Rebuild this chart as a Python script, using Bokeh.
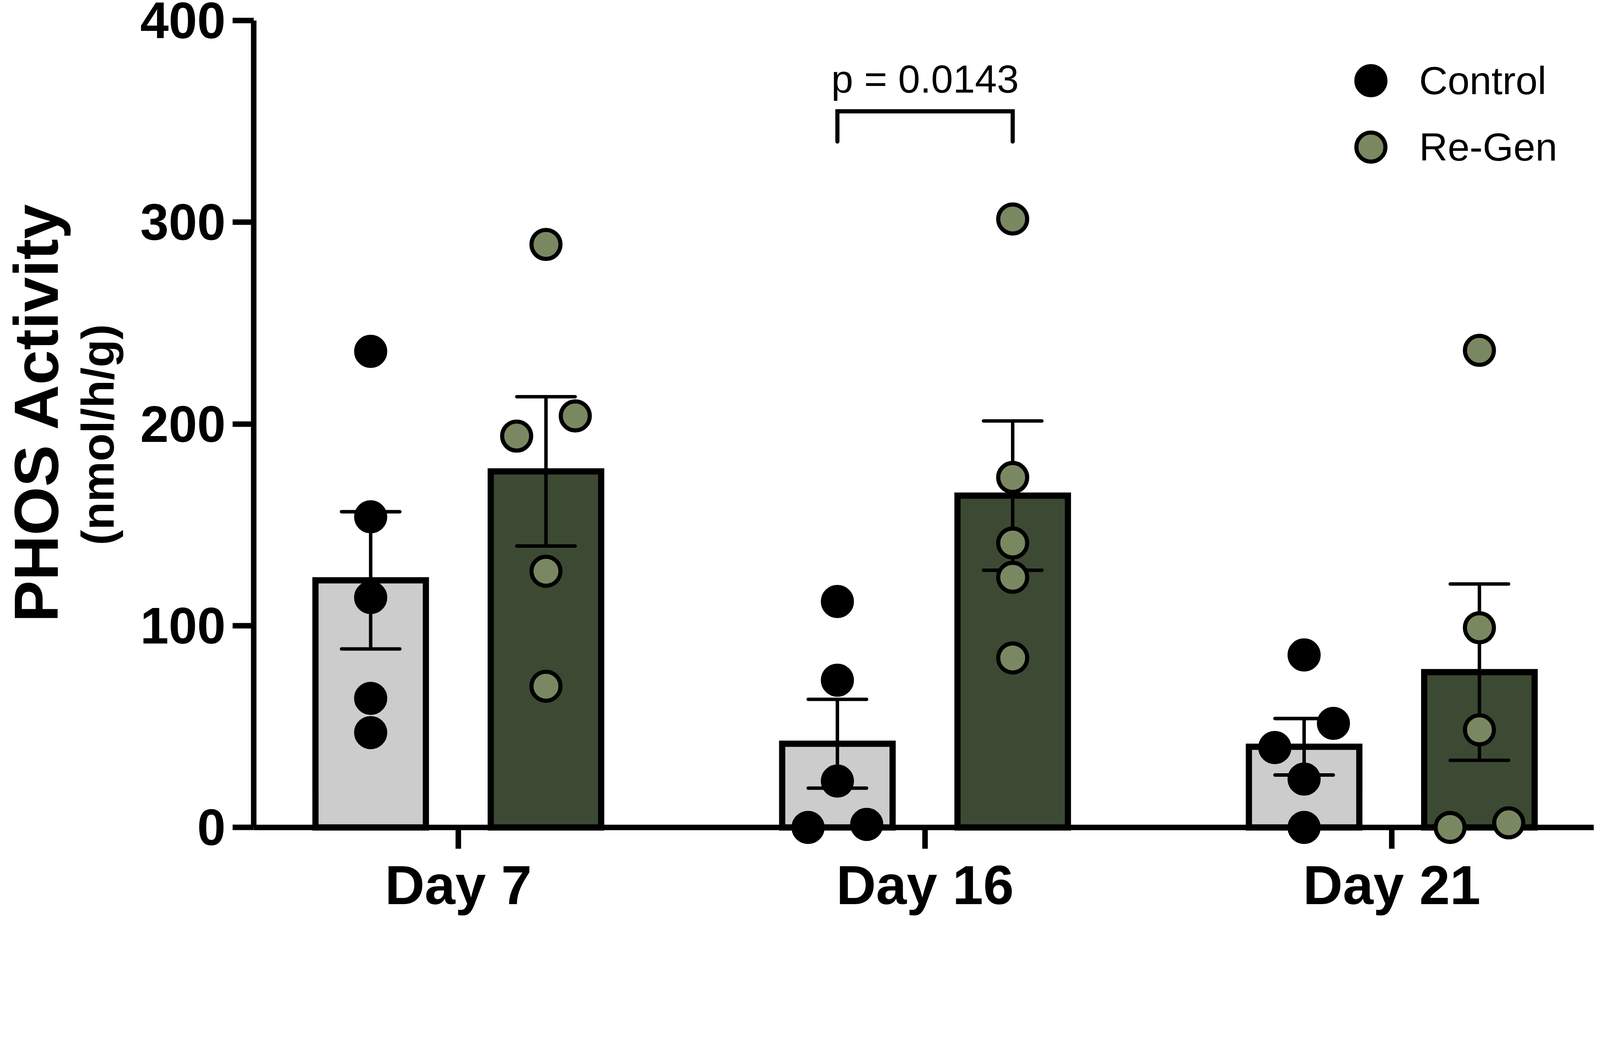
import numpy as np
from bokeh.plotting import figure
from bokeh.models import Range1d, FixedTicker, Legend, LegendItem, Span, Title
from bokeh.embed import file_html
from bokeh.resources import INLINE
from bokeh.core.properties import value

# ---------------- data ----------------
days = ["Day 7", "Day 16", "Day 21"]
groups = ["Control", "Re-Gen"]

control_mean = [122.5, 41.5, 40.0]
control_sem = [34.0, 22.0, 14.0]
regen_mean = [176.5, 164.5, 77.0]
regen_sem = [37.0, 37.0, 43.7]

control_points = [[236.0, 154.0, 114.0, 64.0, 47.0],
                  [112.0, 73.0, 23.0, 0.0, 1.5],
                  [85.5, 51.6, 39.6, 24.0, 0.0]]
control_jitter = [[0, 0, 0, 0, 0],
                  [0, 0, 0, -1, 1],
                  [0, 1, -1, 0, 0]]
regen_points = [[289.0, 204.0, 194.0, 127.0, 70.0],
                [301.6, 173.5, 141.0, 124.0, 84.0],
                [236.5, 99.0, 48.4, 0.0, 2.3]]
regen_jitter = [[0, 1, -1, 0, 0],
                [0, 0, 0, 0, 0],
                [0, 0, 0, -1, 1]]

y_ticks = [0, 100, 200, 300, 400]
y_title = "PHOS Activity"
y_subtitle = "(nmol/h/g)"
p_label = "p = 0.0143"
p_day = "Day 16"

# ---------------- style ----------------
S = 4096 / 4632          # css px per reference px


def px(v):
    return v * S


def fs(v):
    return f"{round(px(v))}px"


FONT = "Liberation Sans"
BAR_OFF = 0.1878
BAR_W = 0.2366
JIT = 0.0628
CAP = 0.0625
TICK_LEN = 10.6          # x tick length, in data units below zero
CTRL_FILL = "#cccccc"
REGEN_FILL = "#3d4a33"
REGEN_PT = "#7a8862"

W, H = 4080, 2346
p = figure(width=W, height=H, output_backend="svg", toolbar_location=None,
           x_range=Range1d(-0.4384, 2.4332), y_range=Range1d(-TICK_LEN, 400),
           min_border_left=645, min_border_right=0, min_border_top=52,
           min_border_bottom=168)
p.title.visible = False
p.outline_line_color = None
p.grid.visible = False
p.background_fill_color = "white"
p.border_fill_color = "white"

idx = list(range(len(days)))
idx_a = np.array(idx, dtype=float)

# x axis line at zero, under the glyphs
p.add_layout(Span(location=0, dimension="width", line_color="black", line_width=px(16),
                  level="underlay"))

# bars
p.vbar(x=idx_a - BAR_OFF, top=control_mean, bottom=0, width=BAR_W,
       fill_color=CTRL_FILL, line_color="black", line_width=px(18), line_join="miter")
p.vbar(x=idx_a + BAR_OFF, top=regen_mean, bottom=0, width=BAR_W,
       fill_color=REGEN_FILL, line_color="black", line_width=px(18), line_join="miter")

# x ticks hanging below zero
p.segment(x0=idx_a, y0=np.zeros(len(idx)), x1=idx_a, y1=np.full(len(idx), -TICK_LEN),
          line_color="black", line_width=px(16))

# error bars (mean +/- SEM)
for off, m, s in ((-BAR_OFF, control_mean, control_sem), (BAR_OFF, regen_mean, regen_sem)):
    m = np.array(m); s = np.array(s)
    xc = idx_a + off
    p.segment(x0=xc, y0=m - s, x1=xc, y1=m + s, line_color="black", line_width=px(10))
    p.segment(x0=np.concatenate([xc - CAP, xc - CAP]), y0=np.concatenate([m + s, m - s]),
              x1=np.concatenate([xc + CAP, xc + CAP]), y1=np.concatenate([m + s, m - s]),
              line_color="black", line_width=px(10), line_cap="round")

# points
def pts(points, jitter, off):
    xs, ys = [], []
    for i, (vals, jit) in enumerate(zip(points, jitter)):
        for v, j in zip(vals, jit):
            xs.append(i + off + j * JIT)
            ys.append(v)
    return xs, ys

cx, cy = pts(control_points, control_jitter, -BAR_OFF)
rx, ry = pts(regen_points, regen_jitter, BAR_OFF)
rc = p.scatter(x=cx, y=cy, size=px(84), fill_color="black", line_color="black",
               line_width=px(12))
rr = p.scatter(x=rx, y=ry, size=px(84), fill_color=REGEN_PT, line_color="black",
               line_width=px(12))

# significance bracket
di = days.index(p_day)
p.line(x=[di - BAR_OFF, di - BAR_OFF, di + BAR_OFF, di + BAR_OFF], y=[340, 355, 355, 340],
       line_color="black", line_width=px(12), line_join="miter", line_cap="round")
p.text(x=[di], y=[371], text=[p_label], text_align="center", text_baseline="alphabetic",
       text_font=value(FONT), text_font_size=fs(114), text_color="black")

# x axis: labels only (line and ticks drawn at zero above)
xa = p.xaxis[0]
xa.ticker = FixedTicker(ticks=idx)
xa.major_label_overrides = {i: d for i, d in zip(idx, days)}
xa.major_label_text_font = FONT
xa.major_label_text_font_style = "bold"
xa.major_label_text_font_size = fs(160)
xa.major_label_text_color = "black"
xa.major_label_standoff = round(px(15))
xa.axis_line_color = None
xa.major_tick_line_color = None
xa.major_tick_out = 0
xa.major_tick_in = 0
xa.minor_tick_line_color = None

ya = p.yaxis[0]
ya.bounds = (0, 400)
ya.ticker = FixedTicker(ticks=y_ticks)
ya.major_label_text_font = FONT
ya.major_label_text_font_style = "bold"
ya.major_label_text_font_size = fs(148)
ya.major_label_text_color = "black"
ya.major_label_standoff = round(px(20))
ya.axis_line_width = px(16)
ya.axis_line_color = "black"
ya.major_tick_line_width = px(16)
ya.major_tick_line_color = "black"
ya.major_tick_out = round(px(61))
ya.major_tick_in = 0
ya.minor_tick_line_color = None
ya.axis_label = y_subtitle
ya.axis_label_text_font = FONT
ya.axis_label_text_font_style = "bold"
ya.axis_label_text_font_size = fs(132)
ya.axis_label_text_color = "black"
ya.axis_label_standoff = 40

# main y title
p.add_layout(Title(text=y_title, align="left", offset=580, standoff=0,
                   text_font=FONT, text_font_style="bold", text_font_size="160px",
                   text_color="black"), "left")

# legend: one single-item legend per group so the rows sit at the reference spacing
for label, rend, vy in ((groups[0], rc, 1873), (groups[1], rr, 1703)):
    p.add_layout(Legend(items=[LegendItem(label=label, renderers=[rend])],
                        location=(2767, vy), glyph_width=186, glyph_height=186,
                        label_standoff=31, label_text_font=FONT,
                        label_text_font_size=fs(114), label_text_color="black",
                        padding=0, margin=0, border_line_color=None,
                        background_fill_alpha=0))

open("out.html", "w").write(file_html(p, INLINE))
